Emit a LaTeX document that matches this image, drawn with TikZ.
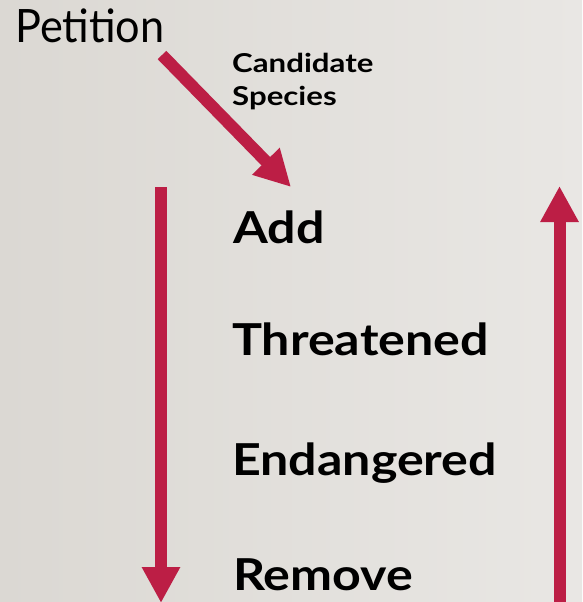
\documentclass[tikz,border=0pt]{standalone}
\usepackage{fontspec}
\setmainfont{Lato}
\newfontfamily\wordfont[FakeStretch=1.14]{Lato}
\newfontfamily\candfont[FakeStretch=1.2]{Lato}
\newfontfamily\petfont[FakeStretch=0.94]{Lato}
\usetikzlibrary{arrows.meta}
\definecolor{bgL}{RGB}{219,216,211}
\definecolor{bgR}{RGB}{233,231,228}
\definecolor{crim}{RGB}{188,30,69}
\tikzset{
  bigarrow/.style={draw=crim, line width=12pt, -{Triangle[width=36pt,length=36pt]}},
  word/.style={anchor=base west, inner sep=0pt, font=\wordfont\bfseries\fontsize{44}{50}\selectfont},
}
\begin{document}
\begin{tikzpicture}[x=1pt,y=-1pt]
  \shade[left color=bgL, right color=bgR] (0,0) rectangle (582,602);
  \useasboundingbox (0,0) rectangle (582,602);
  \node[anchor=base west, inner sep=0pt, font=\petfont\fontsize{46}{50}\selectfont] (petition) at (15,43) {Petition};
  \node[anchor=base west, inner sep=0pt, align=left, font=\candfont\bfseries\fontsize{26}{33}\selectfont] (cand) at (232,105) {Candidate\\Species};
  \node[word] (add) at (233,243) {Add};
  \node[word] (thr) at (232,355) {Threatened};
  \node[word] (end) at (232,475) {Endangered};
  \node[word] (rem) at (233,590) {Remove};
  \coordinate (dtail) at (162,55);
  \coordinate (dtip) at (291,187);
  \coordinate (ltop) at (161,187);
  \coordinate (lbot) at (161,603);
  \coordinate (rbot) at (559.5,610);
  \coordinate (rtop) at (559.5,186);
  \draw[bigarrow] (dtail) -- (dtip);
  \draw[bigarrow] (ltop) -- (lbot);
  \draw[bigarrow] (rbot) -- (rtop);
\end{tikzpicture}
\end{document}
